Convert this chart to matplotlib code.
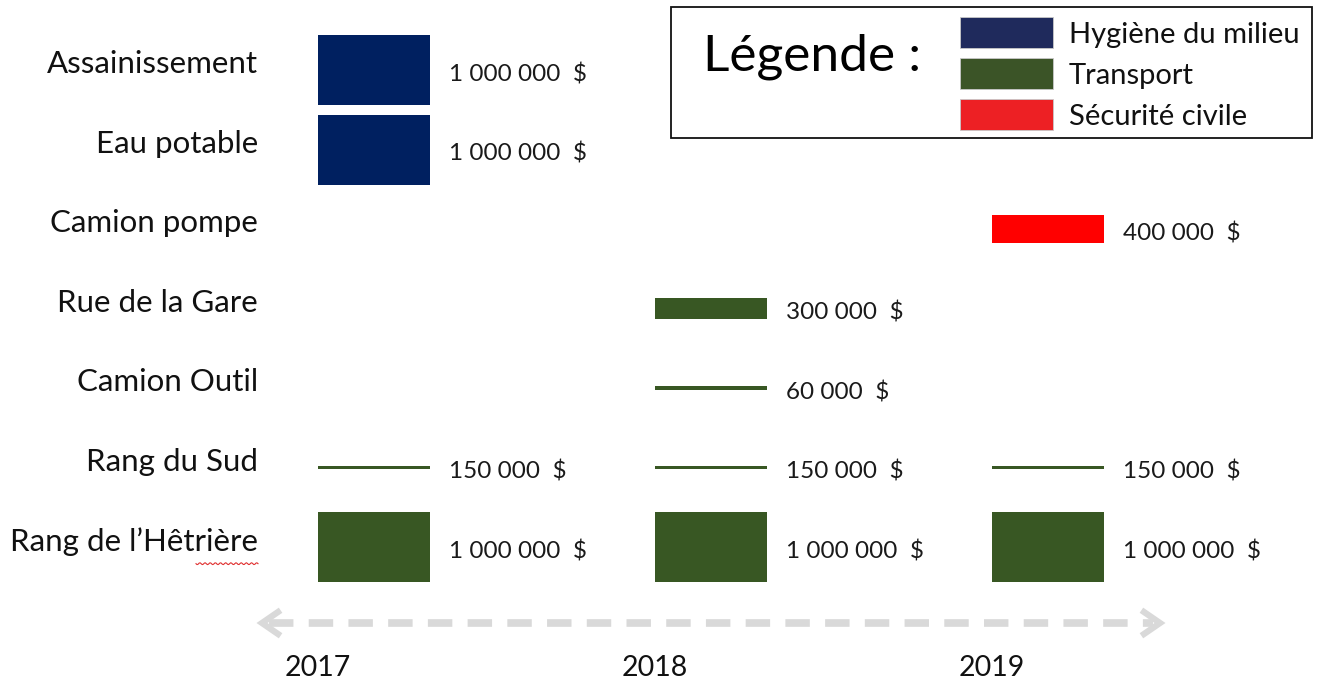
import numpy as np
import matplotlib
matplotlib.use("Agg")
import matplotlib.pyplot as plt
from matplotlib.patches import Rectangle

plt.rcParams['font.family'] = ['Lato', 'DejaVu Sans']

# ---- data ----
projects = ["Assainissement", "Eau potable", "Camion pompe", "Rue de la Gare",
            "Camion Outil", "Rang du Sud", "Rang de l\u2019H\u00eatri\u00e8re"]
years = [2017, 2018, 2019]
categories = ["Hygi\u00e8ne du milieu", "Transport", "S\u00e9curit\u00e9 civile"]
project_category = [0, 0, 2, 1, 1, 1, 1]
# (project index, year, amount $)
entry_project = [0, 1, 2, 3, 4, 5, 5, 5, 6, 6, 6]
entry_year = [2017, 2017, 2019, 2018, 2018, 2017, 2018, 2019, 2017, 2018, 2019]
entry_amount = [1000000, 1000000, 400000, 300000, 60000,
                150000, 150000, 150000, 1000000, 1000000, 1000000]

bar_colors = ["#002060", "#385723", "#ff0000"]
legend_colors = ["#1f2a5c", "#3b5427", "#ed2024"]

W, H = 1322, 686
fig = plt.figure(figsize=(W / 100, H / 100), dpi=100)
ax = fig.add_axes([0, 0, 1, 1])
px_year = 337.0
px_row = 79.5
x0 = 2017 - 374 / px_year
ax.set_xlim(x0, x0 + W / px_year)
y0 = -70 / px_row
ax.set_ylim(y0 + H / px_row, y0)
ax.axis('off')

bw = 112 / px_year
full_h = 70 / px_row
line_h = 3 / px_row


def fmt(v):
    return f"{v:,}".replace(",", " ") + "  $"


for p, yr, amt in zip(entry_project, entry_year, entry_amount):
    c = bar_colors[project_category[p]]
    h = amt / 1e6 * full_h if amt >= 300000 else line_h
    ax.barh(p, bw, left=yr - bw / 2, height=h, color=c, edgecolor='none')
    ax.text(yr + bw / 2 + 19 / px_year, p + 0.055, fmt(amt), ha='left', va='center',
            fontsize=17.5, color='#1a1a1a')

label_x = x0 + 258 / px_year
for i, name in enumerate(projects):
    ax.text(label_x, i - 0.07, name, ha='right', va='center', fontsize=22.5, color='#111111')

# red spell-check squiggle under "Hêtrière"
sx = np.linspace(x0 + 196 / px_year, x0 + 258 / px_year, 60)
sy = 6 + 0.21 + 0.012 * np.sin(np.linspace(0, 24 * np.pi, 60))
ax.plot(sx, sy, color='#e03030', lw=0.8)

# timeline arrow
arrow_y = (623 - 70) / px_row
ax_l = x0 + 262 / px_year
ax_r = x0 + 1160 / px_year
ax.plot([ax_l + 0.02, ax_r - 0.02], [arrow_y, arrow_y], color='#d9d9d9', lw=5.5,
        dashes=(3.2, 2.0), solid_capstyle='butt', dash_capstyle='butt')
ah_w = 16 / px_year
ah_h = 11 / px_row
ax.plot([ax_l + ah_w, ax_l, ax_l + ah_w], [arrow_y - ah_h, arrow_y, arrow_y + ah_h],
        color='#d9d9d9', lw=4.5, solid_joinstyle='miter')
ax.plot([ax_r - ah_w, ax_r, ax_r - ah_w], [arrow_y - ah_h, arrow_y, arrow_y + ah_h],
        color='#d9d9d9', lw=4.5, solid_joinstyle='miter')

year_y = (668 - 70) / px_row
for yr in years:
    ax.text(yr - bw / 2, year_y, str(yr), ha='center', va='center', fontsize=20.5,
            color='#111111')

# legend (pixel-coordinate overlay)
lx = fig.add_axes([0, 0, 1, 1])
lx.set_xlim(0, W)
lx.set_ylim(H, 0)
lx.axis('off')
lx.patch.set_alpha(0)
lx.add_patch(Rectangle((671, 7), 641, 131, fill=False, edgecolor='#111111', lw=1.3))
lx.text(703, 57, "L\u00e9gende :", ha='left', va='center', fontsize=37, color='#000000')
for i, (cat, col) in enumerate(zip(categories, legend_colors)):
    top = 17 + i * 41
    lx.add_patch(Rectangle((960, top), 93, 31, facecolor=col, edgecolor='#c8c8c8', lw=0.6))
    lx.text(1069, top + 18, cat, ha='left', va='center', fontsize=21, color='#111111')

fig.savefig("out.png", dpi=100)
